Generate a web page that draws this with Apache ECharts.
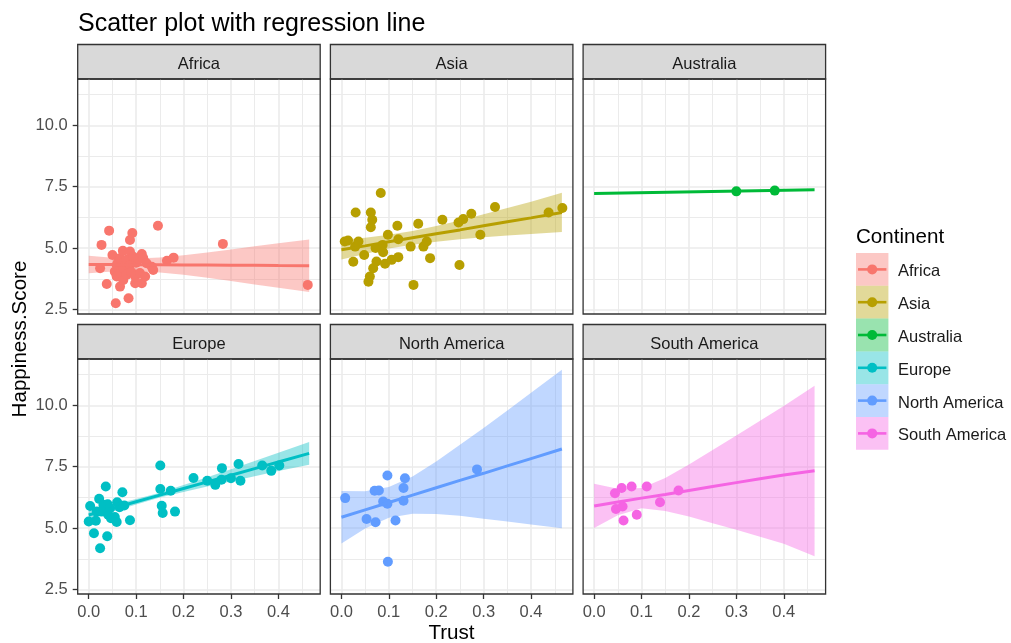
<!DOCTYPE html>
<html>
<head>
<meta charset="utf-8">
<title>Scatter plot with regression line</title>
<script src="https://cdn.jsdelivr.net/npm/echarts@6.0.0/dist/echarts.min.js"></script>
<style>
  html, body { margin: 0; padding: 0; background: #fff; }
  #chart { width: 1011px; height: 643px; }
</style>
</head>
<body>
<div id="chart"></div>
<script>
// facet order (same as the ggplot legend)
const continents = ['Africa', 'Asia', 'Australia', 'Europe', 'North America', 'South America'];

// Trust vs Happiness.Score
const africaPts = [
  [0.024, 4.18], [0.027, 5.13], [0.038, 3.54], [0.043, 5.71], [0.050, 4.72], [0.055, 4.04],
  [0.057, 2.75], [0.059, 4.31], [0.059, 3.84], [0.062, 4.45], [0.066, 4.59], [0.066, 3.43],
  [0.068, 4.00], [0.072, 4.89], [0.073, 4.18], [0.073, 3.70], [0.075, 4.45], [0.080, 4.52],
  [0.080, 3.91], [0.084, 2.96], [0.087, 5.33], [0.087, 4.86], [0.087, 4.31], [0.090, 4.02],
  [0.092, 5.61], [0.094, 4.65], [0.098, 3.57], [0.098, 3.84], [0.100, 4.40], [0.105, 4.55],
  [0.108, 3.98], [0.112, 4.76], [0.112, 3.57], [0.115, 4.59], [0.119, 3.84], [0.122, 4.38],
  [0.133, 4.24], [0.136, 4.11], [0.146, 5.91], [0.165, 4.48], [0.179, 4.61], [0.283, 5.17],
  [0.462, 3.50]
];
const asiaPts = [
  [0.007, 5.27], [0.014, 5.31], [0.025, 4.44], [0.029, 5.06], [0.030, 6.45], [0.036, 5.27],
  [0.048, 4.72], [0.057, 3.63], [0.060, 3.84], [0.062, 6.45], [0.062, 5.85], [0.065, 6.15],
  [0.067, 4.18], [0.072, 5.00], [0.074, 4.45], [0.083, 7.24], [0.087, 5.13], [0.088, 4.83],
  [0.092, 4.36], [0.098, 5.54], [0.106, 4.52], [0.118, 5.91], [0.120, 5.36], [0.120, 4.63],
  [0.146, 5.06], [0.152, 3.50], [0.162, 5.99], [0.173, 5.06], [0.180, 5.27], [0.187, 4.59],
  [0.213, 6.15], [0.247, 6.04], [0.249, 4.31], [0.257, 6.18], [0.274, 6.40], [0.293, 5.54],
  [0.324, 6.67], [0.437, 6.45], [0.466, 6.63]
];
const australiaPts = [[0.300, 7.31], [0.381, 7.34]];
const europePts = [
  [0.000, 5.27], [0.003, 5.90], [0.011, 4.79], [0.015, 5.30], [0.017, 5.67], [0.022, 6.19],
  [0.024, 4.18], [0.027, 5.67], [0.031, 5.95], [0.036, 6.69], [0.039, 4.67], [0.040, 5.97],
  [0.041, 5.54], [0.045, 5.81], [0.047, 5.40], [0.055, 5.45], [0.059, 5.25], [0.060, 6.05],
  [0.065, 5.85], [0.071, 6.46], [0.075, 5.92], [0.087, 5.32], [0.151, 7.55], [0.151, 6.59],
  [0.154, 5.91], [0.156, 5.61], [0.173, 6.52], [0.182, 5.67], [0.221, 7.04], [0.250, 6.93],
  [0.267, 6.76], [0.280, 6.97], [0.281, 7.44], [0.300, 7.03], [0.316, 7.61], [0.320, 6.93],
  [0.366, 7.55], [0.385, 7.33], [0.402, 7.55]
];
const northAmericaPts = [
  [0.008, 6.22], [0.053, 5.37], [0.070, 6.52], [0.072, 5.24], [0.079, 6.53], [0.088, 6.08],
  [0.097, 7.14], [0.097, 5.99], [0.098, 3.63], [0.114, 5.31], [0.131, 6.63], [0.131, 6.11],
  [0.134, 7.03], [0.286, 7.39]
];
const southAmericaPts = [
  [0.044, 6.42], [0.046, 5.78], [0.058, 6.63], [0.060, 5.88], [0.062, 5.31], [0.079, 6.69],
  [0.090, 5.54], [0.111, 6.69], [0.139, 6.05], [0.178, 6.53]
];

// lm fit with its confidence band, read at these Trust values
const fitX = [0, 0.05, 0.1, 0.15, 0.2, 0.25, 0.3, 0.35, 0.4, 0.465];
const africaFit = [4.33, 4.33, 4.32, 4.32, 4.31, 4.31, 4.30, 4.30, 4.29, 4.28];
const africaLo = [3.97, 4.05, 4.06, 4.01, 3.91, 3.79, 3.66, 3.52, 3.38, 3.21];
const africaHi = [4.69, 4.61, 4.58, 4.62, 4.71, 4.82, 4.94, 5.07, 5.20, 5.35];
const asiaFit = [4.93, 5.09, 5.26, 5.42, 5.58, 5.74, 5.91, 6.07, 6.23, 6.45];
const asiaLo = [4.53, 4.76, 4.98, 5.14, 5.26, 5.36, 5.44, 5.51, 5.57, 5.65];
const asiaHi = [5.33, 5.42, 5.54, 5.70, 5.90, 6.12, 6.38, 6.63, 6.89, 7.25];
const europeFit = [5.53, 5.80, 6.07, 6.34, 6.61, 6.88, 7.15, 7.42, 7.69, 8.04];
const europeLo = [5.33, 5.66, 5.96, 6.24, 6.47, 6.69, 6.90, 7.11, 7.32, 7.58];
const europeHi = [5.73, 5.95, 6.18, 6.44, 6.75, 7.07, 7.40, 7.73, 8.07, 8.50];
const northAmericaFit = [5.44, 5.74, 6.04, 6.34, 6.64, 6.94, 7.23, 7.53, 7.83, 8.22];
const northAmericaLo = [4.37, 4.98, 5.42, 5.58, 5.57, 5.50, 5.38, 5.27, 5.15, 4.99];
const northAmericaHi = [6.51, 6.50, 6.67, 7.10, 7.71, 8.39, 9.08, 9.79, 10.51, 11.45];
const southAmericaFit = [5.90, 6.06, 6.22, 6.37, 6.53, 6.69, 6.85, 7.01, 7.16, 7.33];
const southAmericaLo = [5.00, 5.52, 5.81, 5.70, 5.47, 5.20, 4.93, 4.65, 4.36, 3.85];
const southAmericaHi = [6.80, 6.60, 6.63, 7.04, 7.59, 8.18, 8.77, 9.37, 9.97, 10.80];
// only two countries -> no band
const australiaFitX = [0, 0.465];
const australiaFit = [7.22, 7.37];

const xTicks = [0, 0.1, 0.2, 0.3, 0.4];
const xMinor = [0.05, 0.15, 0.25, 0.35, 0.45];
const yTicks = [2.5, 5, 7.5, 10];
const yMinor = [3.75, 6.25, 8.75, 11.25];

const panels = [
  { pts: africaPts, fx: fitX, fit: africaFit, lo: africaLo, hi: africaHi },
  { pts: asiaPts, fx: fitX, fit: asiaFit, lo: asiaLo, hi: asiaHi },
  { pts: australiaPts, fx: australiaFitX, fit: australiaFit },
  { pts: europePts, fx: fitX, fit: europeFit, lo: europeLo, hi: europeHi },
  { pts: northAmericaPts, fx: fitX, fit: northAmericaFit, lo: northAmericaLo, hi: northAmericaHi },
  { pts: southAmericaPts, fx: fitX, fit: southAmericaFit, lo: southAmericaLo, hi: southAmericaHi }
];

// ggplot default hues
const colors = ['#F8766D', '#B79F00', '#00BA38', '#00BFC4', '#619CFF', '#F564E3'];
const FONT = '"Liberation Sans", Arial, sans-serif';

const xRange = [-0.02325, 0.48825];
const yRange = [2.315, 11.885];

// facet layout (px)
const colLeft = [77.7, 330.4, 583.1];
const rowTop = [79, 359];
const panelW = 242.5, panelH = 235, stripH = 34.5;
const textNudge = 2.5; // canvas 'middle' sits a little high for this font

function alpha(hex, a) {
  const n = parseInt(hex.slice(1), 16);
  return `rgba(${n >> 16},${(n >> 8) & 255},${n & 255},${a})`;
}

function ribbonItem(params, api) {
  if (params.dataIndexInside !== 0) return null;
  const n = params.dataInsideLength;
  const top = [], bot = [];
  for (let k = 0; k < n; k++) {
    top.push(api.coord([api.value(0, k), api.value(2, k)]));
    bot.push(api.coord([api.value(0, k), api.value(1, k)]));
  }
  return {
    type: 'polygon',
    shape: { points: top.concat(bot.reverse()) },
    style: { fill: api.visual('color'), stroke: null }
  };
}

function label(text, x, y, size, fill, align, extra) {
  return Object.assign({
    type: 'text', x, y: y + textNudge,
    style: { text, font: `${size}px ${FONT}`, fill,
      align, verticalAlign: 'middle', textAlign: align, textVerticalAlign: 'middle' }
  }, extra || {});
}

const grids = [], xAxes = [], yAxes = [], series = [], graphics = [];

panels.forEach((p, i) => {
  const col = i % 3, row = Math.floor(i / 3);
  const left = colLeft[col], top = rowTop[row];
  const showX = row === 1, showY = col === 0;
  grids.push({ left, top, width: panelW, height: panelH, outerBoundsMode: 'none' });

  const tickStyle = { length: 5, lineStyle: { color: '#333333', width: 1.3 } };
  const labelStyle = { color: '#4d4d4d', fontSize: 16.5, fontFamily: FONT };
  xAxes.push({
    type: 'value', gridIndex: i, min: xRange[0], max: xRange[1],
    axisLine: { show: false, onZero: false },
    axisTick: Object.assign({ show: showX, customValues: xTicks }, tickStyle),
    axisLabel: Object.assign({ show: showX, customValues: xTicks, margin: 10,
      formatter: v => v.toFixed(1) }, labelStyle),
    splitLine: { show: true, lineStyle: { color: '#ebebeb', width: 1.6 } }
  }, {
    type: 'value', gridIndex: i, min: xRange[0], max: xRange[1],
    axisLine: { show: false, onZero: false },
    axisTick: { show: false, customValues: xMinor },
    axisLabel: { show: false },
    splitLine: { show: true, lineStyle: { color: '#ebebeb', width: 1 } }
  });
  yAxes.push({
    type: 'value', gridIndex: i, min: yRange[0], max: yRange[1],
    axisLine: { show: false, onZero: false },
    axisTick: Object.assign({ show: showY, customValues: yTicks }, tickStyle),
    axisLabel: Object.assign({ show: showY, customValues: yTicks, margin: 10,
      padding: [4, 0, 0, 0], formatter: v => v.toFixed(1) }, labelStyle),
    splitLine: { show: true, lineStyle: { color: '#ebebeb', width: 1.6 } }
  }, {
    type: 'value', gridIndex: i, min: yRange[0], max: yRange[1],
    axisLine: { show: false, onZero: false },
    axisTick: { show: false, customValues: yMinor },
    axisLabel: { show: false },
    splitLine: { show: true, lineStyle: { color: '#ebebeb', width: 1 } }
  });

  const axes = { xAxisIndex: 2 * i, yAxisIndex: 2 * i };
  if (p.lo) {
    series.push(Object.assign({
      type: 'custom', name: continents[i] + ' band', renderItem: ribbonItem,
      data: p.fx.map((x, k) => [x, p.lo[k], p.hi[k]]),
      encode: { x: 0, y: [1, 2] },
      itemStyle: { color: alpha(colors[i], 0.4) },
      clip: true, silent: true, z: 1
    }, axes));
  }
  series.push(Object.assign({
    type: 'scatter', name: continents[i],
    data: p.pts, symbolSize: 10,
    itemStyle: { color: colors[i], opacity: 1 }, z: 2
  }, axes));
  series.push(Object.assign({
    type: 'line', name: continents[i] + ' fit',
    data: p.fx.map((x, k) => [x, p.fit[k]]),
    symbol: 'none', lineStyle: { color: colors[i], width: 3 }, z: 3
  }, axes));

  // facet strip and panel border
  graphics.push({
    type: 'rect', shape: { x: left, y: top - stripH, width: panelW, height: stripH },
    style: { fill: '#d9d9d9', stroke: '#333333', lineWidth: 1.3 }
  }, label(continents[i], left + panelW / 2, top - stripH / 2, 16.5, '#1a1a1a', 'center'), {
    type: 'rect', z: 100, shape: { x: left, y: top, width: panelW, height: panelH },
    style: { fill: null, stroke: '#333333', lineWidth: 1.3 }
  });
});

// titles
graphics.push(
  label('Scatter plot with regression line', 78, 22, 25, '#000', 'left'),
  label('Trust', 451.5, 631, 20.6, '#000', 'center'),
  label('Happiness.Score', 20, 336.5, 20.6, '#000', 'center', { rotation: Math.PI / 2 })
);

// legend (ggplot style keys: band fill + line + point)
const legX = 856, legY = 253, keyW = 32.4, keyH = 32.8;
graphics.push(label('Continent', legX, 235, 20.6, '#000', 'left'));
continents.forEach((name, i) => {
  const y = legY + i * keyH;
  graphics.push({
    type: 'rect', shape: { x: legX, y, width: keyW, height: keyH },
    style: { fill: alpha(colors[i], 0.4) }
  }, {
    type: 'line', shape: { x1: legX + 2, y1: y + keyH / 2, x2: legX + keyW - 2, y2: y + keyH / 2 },
    style: { stroke: colors[i], lineWidth: 2.6 }
  }, {
    type: 'circle', shape: { cx: legX + keyW / 2, cy: y + keyH / 2, r: 5 },
    style: { fill: colors[i] }
  }, label(name, legX + 42, y + keyH / 2, 16.5, '#1a1a1a', 'left'));
});

const chart = echarts.init(document.getElementById('chart'));
chart.setOption({
  animation: false,
  backgroundColor: '#ffffff',
  textStyle: { fontFamily: FONT },
  grid: grids,
  xAxis: xAxes,
  yAxis: yAxes,
  series: series,
  graphic: { elements: graphics }
});
</script>
</body>
</html>
